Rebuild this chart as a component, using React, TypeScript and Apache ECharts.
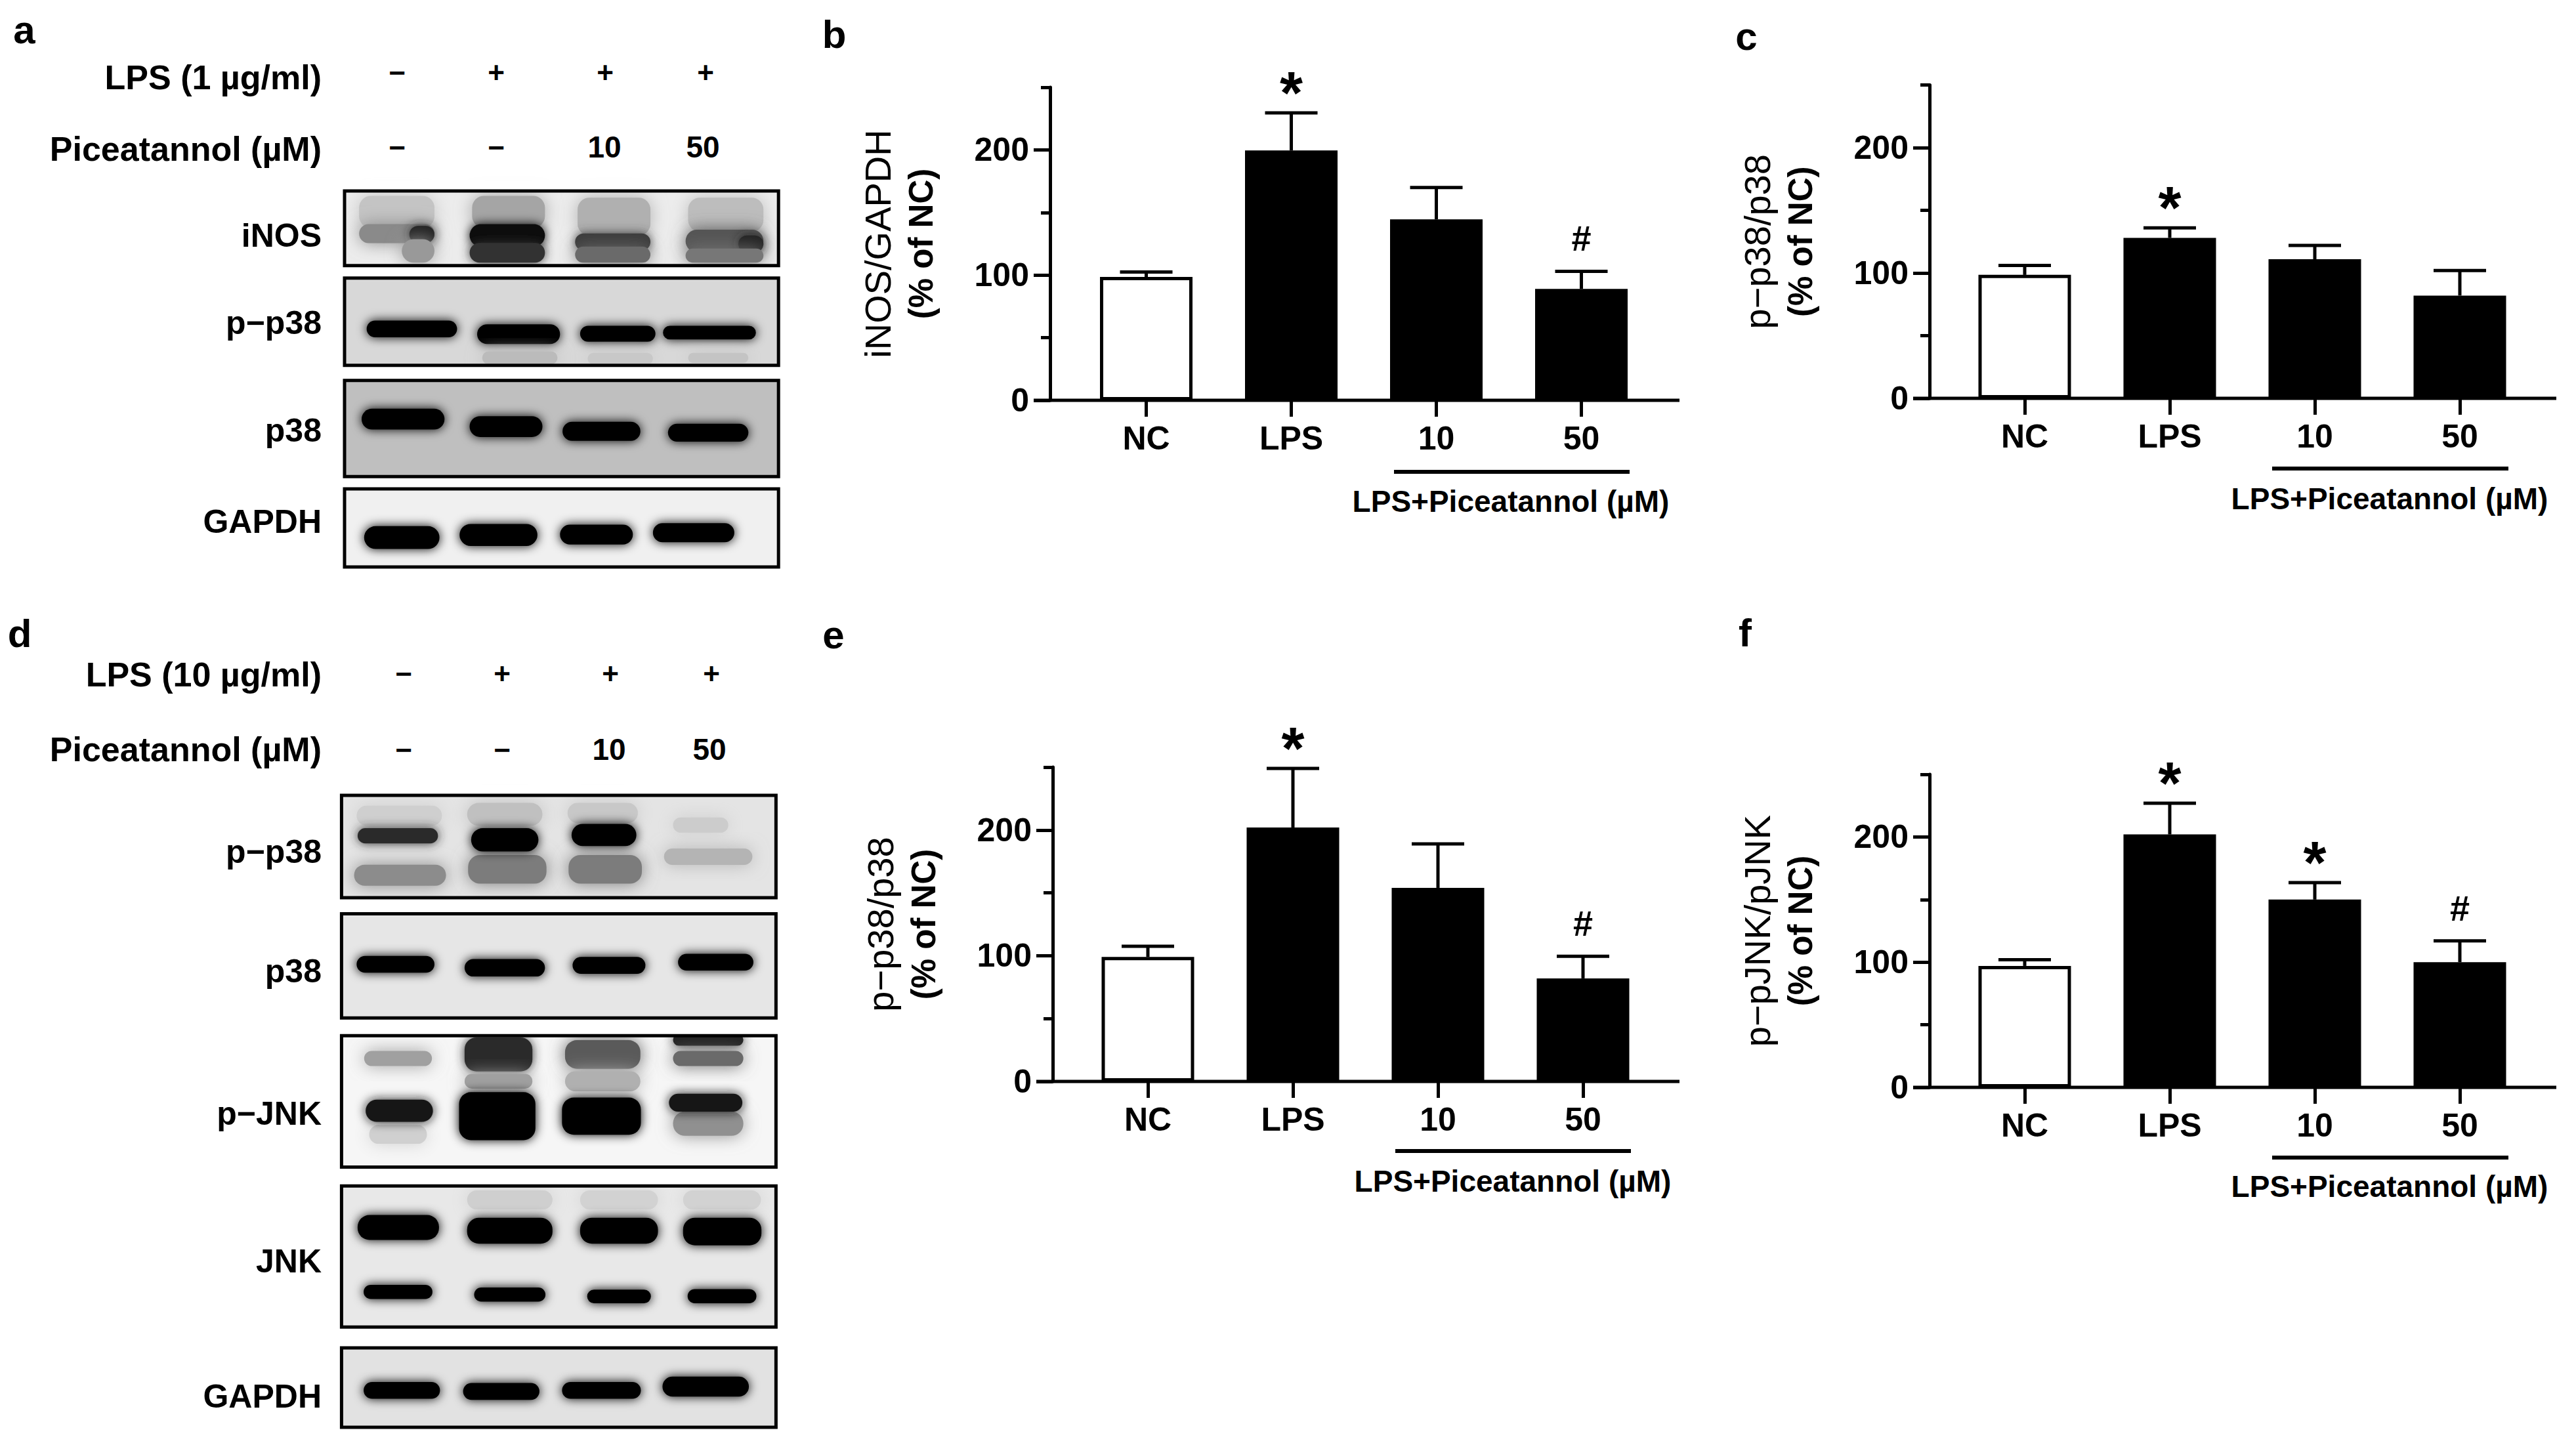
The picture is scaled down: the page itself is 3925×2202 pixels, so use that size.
import React, { useEffect, useRef } from "react";
import * as echarts from "echarts";

const FONT = "Liberation Sans";

// ---------- bar chart data ----------
const categories = ["NC", "LPS", "10", "50"];
const yTicks = [0, 100, 200];
const yMinorTicks = [50, 150, 250];
const caption = "LPS+Piceatannol (µM)";

const bMeans = [98.5, 199.5, 144.5, 89];
const bErrTops = [102.5, 229.5, 170, 103];
const bMarks = ["", "*", "", "#"];
const cMeans = [98.5, 128, 111, 82];
const cErrTops = [106, 136, 122, 102];
const cMarks = ["", "*", "", ""];
const eMeans = [99, 202, 154, 82];
const eErrTops = [107.5, 249, 189, 99.5];
const eMarks = ["", "*", "", "#"];
const fMeans = [97, 202, 150, 100];
const fErrTops = [102, 227, 163.5, 117];
const fMarks = ["", "*", "*", "#"];

// ---------- layout of the four bar panels ----------
const panels = [
  { title: "iNOS/GAPDH", sub: "(% of NC)", means: bMeans, errs: bErrTops, marks: bMarks, left: 1636, top: 133, h: 477, axisX: 1600, lineL: 1575, lineR: 2559, brL: 2124, brR: 2483, brY: 719, capX: 2302, capY: 764, gap: 164 },
  { title: "p−p38/p38", sub: "(% of NC)", means: cMeans, errs: cErrTops, marks: cMarks, left: 2974.5, top: 129.5, h: 477.5, axisX: 2940, lineL: 2915, lineR: 3895, brL: 3462, brR: 3822, brY: 714, capX: 3641, capY: 760, gap: 164 },
  { title: "p−p38/p38", sub: "(% of NC)", means: eMeans, errs: eErrTops, marks: eMarks, left: 1638.5, top: 1169, h: 479, axisX: 1604, lineL: 1579, lineR: 2559, brL: 2126, brR: 2485, brY: 1754, capX: 2305, capY: 1800, gap: 164 },
  { title: "p−pJNK/pJNK", sub: "(% of NC)", means: fMeans, errs: fErrTops, marks: fMarks, left: 2974.5, top: 1180, h: 477, axisX: 2940, lineL: 2915, lineR: 3895, brL: 3462, brR: 3822, brY: 1764, capX: 3641, capY: 1808, gap: 164 },
];
const BAND = 221;

// ---------- blot panels: coordinates in a per-figure drawing space ----------
type Box = { y0: number; y1: number; bg: string };
type B = [number, number, number, number, string?];

const aBoxes: Box[] = [
  { y0: 507, y1: 705, bg: "#ececec" },
  { y0: 738, y1: 970, bg: "#d8d8d8" },
  { y0: 1010, y1: 1265, bg: "#bfbfbf" },
  { y0: 1298, y1: 1505, bg: "#f0f0f0" },
];
const aBands: B[] = [
  [715, 865, 525, 600, "#c4c4c4"], [715, 865, 600, 640, "#8a8a8a"], [815, 865, 605, 640, "#222"], [800, 865, 640, 692, "#999"],
  [940, 1085, 525, 600, "#a5a5a5"], [935, 1085, 600, 650, "#111"], [935, 1085, 650, 692, "#333"],
  [1150, 1295, 530, 620, "#b0b0b0"], [1145, 1295, 625, 660, "#3a3a3a"], [1145, 1295, 660, 692, "#6a6a6a"],
  [1370, 1520, 530, 610, "#bdbdbd"], [1365, 1520, 615, 665, "#555"], [1470, 1520, 630, 665, "#222"], [1365, 1520, 665, 692, "#777"],
  [730, 910, 856, 890], [950, 1115, 866, 908], [1155, 1305, 870, 902], [1320, 1505, 870, 896],
  [960, 1110, 938, 962, "#bbb"], [1170, 1300, 942, 962, "#c8c8c8"], [1370, 1490, 942, 958, "#c4c4c4"],
  [720, 885, 1090, 1135], [935, 1080, 1110, 1155], [1120, 1275, 1125, 1165], [1330, 1490, 1130, 1167],
  [725, 875, 1402, 1452], [915, 1070, 1396, 1444], [1115, 1260, 1398, 1440], [1300, 1462, 1394, 1434],
];

const dBoxes: Box[] = [
  { y0: 357, y1: 548, bg: "#e4e4e4" },
  { y0: 578, y1: 772, bg: "#e6e6e6" },
  { y0: 805, y1: 1050, bg: "#f6f6f6" },
  { y0: 1085, y1: 1348, bg: "#e8e8e8" },
  { y0: 1387, y1: 1535, bg: "#e2e2e2" },
];
const dBands: B[] = [
  [710, 880, 380, 410, "#cfcfcf"], [930, 1080, 375, 410, "#c0c0c0"], [1130, 1270, 375, 405, "#c8c8c8"],
  [705, 888, 490, 522, "#8c8c8c"], [932, 1088, 472, 518, "#7c7c7c"], [1132, 1278, 472, 518, "#7c7c7c"],
  [712, 872, 422, 443, "#2a2a2a"], [938, 1072, 422, 458], [1138, 1267, 414, 448],
  [1340, 1450, 402, 423, "#ccc"], [1322, 1498, 460, 483, "#b4b4b4"],
  [710, 865, 660, 684], [925, 1085, 666, 691], [1140, 1285, 662, 686], [1350, 1500, 656, 680],
  [725, 860, 837, 858, "#a0a0a0"], [735, 850, 975, 1003, "#d0d0d0"], [728, 862, 928, 962, "#151515"],
  [925, 1060, 812, 868, "#2a2a2a"], [925, 1060, 880, 900, "#a0a0a0"], [914, 1066, 914, 996],
  [1125, 1275, 817, 863, "#5a5a5a"], [1125, 1275, 875, 905, "#b0b0b0"], [1119, 1276, 924, 986],
  [1340, 1480, 806, 820, "#222"], [1340, 1480, 837, 858, "#6a6a6a"], [1340, 1480, 950, 988, "#909090"], [1332, 1478, 917, 943, "#151515"],
  [930, 1100, 1097, 1125, "#cfcfcf"], [1155, 1310, 1097, 1125, "#d2d2d2"], [1360, 1515, 1097, 1125, "#d2d2d2"],
  [712, 874, 1143, 1182], [930, 1100, 1148, 1189], [1155, 1310, 1148, 1189], [1360, 1516, 1148, 1192],
  [724, 861, 1273, 1292], [944, 1086, 1278, 1297], [1169, 1296, 1282, 1300], [1369, 1506, 1281, 1300],
  [724, 876, 1454, 1478], [922, 1074, 1456, 1480], [1119, 1276, 1454, 1478], [1319, 1491, 1444, 1474],
];

const aLabels = [["iNOS", 359], ["p−p38", 492], ["p38", 656], ["GAPDH", 795]] as [string, number][];
const dLabels = [["p−p38", 1298], ["p38", 1480], ["p−JNK", 1697], ["JNK", 1922], ["GAPDH", 2128]] as [string, number][];
const aHeader = [["LPS (1 µg/ml)", 118], ["Piceatannol (µM)", 227]] as [string, number][];
const dHeader = [["LPS (10 µg/ml)", 1028], ["Piceatannol (µM)", 1142]] as [string, number][];
const rowLps = ["−", "+", "+", "+"];
const rowPic = ["−", "−", "10", "50"];
const aColsLps = [605, 756, 922, 1075];
const aColsPic = [605, 756, 921, 1071];
const dColsLps = [615, 765, 930, 1084];
const dColsPic = [615, 765, 928, 1081];
const letters = [["a", 37, 45], ["b", 1271, 52], ["c", 2661, 55], ["d", 30, 965], ["e", 1270, 967], ["f", 2659, 964]] as [string, number, number][];

const XS = 1 / 1.3067;
const AYS = 1 / 1.742;
const DYS = 1 / 1.223;

function text(t: string, x: number, y: number, size: number, align = "center", weight = "bold") {
  return {
    type: "text",
    z: 20,
    style: { text: t, x, y, fill: "#000", font: `${weight} ${size}px "${FONT}"`, align, verticalAlign: "middle" },
  };
}

function blot(boxes: Box[], bands: B[], x0: number, x1: number, ys: number, yo: number) {
  const out: any[] = [];
  const bx = x0 * XS, bw = (x1 - x0) * XS;
  for (const b of boxes) {
    out.push({
      type: "rect", z: 5,
      shape: { x: bx, y: b.y0 * ys + yo, width: bw, height: (b.y1 - b.y0) * ys },
      style: { fill: b.bg },
    });
  }
  for (const [l, r, t, bt, col] of bands) {
    const c = col || "#000";
    const pad = 3;
    const h = (bt - t) * ys + pad * 2;
    const grey = !!col && parseInt(col.slice(1, 2), 16) > 3;
    out.push({
      type: "rect", z: 6,
      shape: { x: l * XS, y: t * ys + yo - pad, width: (r - l) * XS, height: h, r: Math.min(h / 2, 18) },
      style: { fill: c, shadowBlur: grey ? 26 : 16, shadowColor: c },
    });
  }
  for (const b of boxes) {
    // white ring hides any blur that spills past the membrane edge
    out.push({
      type: "rect", z: 7,
      shape: { x: bx - 8, y: b.y0 * ys + yo - 8, width: bw + 16, height: (b.y1 - b.y0) * ys + 16 },
      style: { fill: "none", stroke: "#fff", lineWidth: 16 },
    });
    out.push({
      type: "rect", z: 8,
      shape: { x: bx, y: b.y0 * ys + yo, width: bw, height: (b.y1 - b.y0) * ys },
      style: { fill: "none", stroke: "#000", lineWidth: 5 },
    });
  }
  return out;
}

function buildOption() {
  const grid: any[] = [], xAxis: any[] = [], yAxis: any[] = [], series: any[] = [], graphic: any[] = [];
  panels.forEach((p, i) => {
    grid.push({ left: p.left, top: p.top, width: BAND * 4, height: p.h, containLabel: false });
    xAxis.push({
      gridIndex: i, type: "category", data: categories,
      axisLine: { show: false },
      axisTick: { show: true, length: 25, alignWithLabel: true, lineStyle: { color: "#000", width: 5 } },
      axisLabel: { margin: 33, color: "#000", fontFamily: FONT, fontWeight: "bold", fontSize: 50 },
      splitLine: { show: false },
    });
    const offset = p.left - p.axisX;
    yAxis.push({
      gridIndex: i, type: "value", min: 0, max: 250, interval: 50, offset,
      name: `{t|${p.title}}\n{s|${p.sub}}`, nameLocation: "middle", nameRotate: 90, nameGap: p.gap,
      nameTextStyle: {
        rich: {
          t: { fontFamily: FONT, fontSize: 56, lineHeight: 66, fontWeight: "normal", color: "#000" },
          s: { fontFamily: FONT, fontSize: 51, lineHeight: 66, fontWeight: "bold", color: "#000" },
        },
      },
      axisLine: { show: true, lineStyle: { color: "#000", width: 5 } },
      axisTick: { show: true, length: 25, customValues: yTicks, lineStyle: { color: "#000", width: 5 } },
      axisLabel: { margin: 32, customValues: yTicks, color: "#000", fontFamily: FONT, fontWeight: "bold", fontSize: 50 },
      splitLine: { show: false },
    });
    yAxis.push({
      gridIndex: i, type: "value", min: 0, max: 250, interval: 50, offset, position: "left",
      axisLine: { show: false },
      axisTick: { show: true, length: 14, customValues: yMinorTicks, lineStyle: { color: "#000", width: 5 } },
      axisLabel: { show: false },
      splitLine: { show: false },
    });
    series.push({
      type: "custom", xAxisIndex: i, yAxisIndex: i * 2, silent: true, z: 2,
      data: categories.map((_, k) => [k, p.means[k], p.errs[k]]),
      encode: { x: 0, y: [1, 2] },
      renderItem: (params: any, api: any) => {
        const k = api.value(0);
        const base = api.coord([k, api.value(1)]);
        const top = api.coord([k, api.value(2)]);
        const m = p.marks[params.dataIndex];
        const line = { stroke: "#000", lineWidth: 5 };
        const kids: any[] = [
          { type: "line", shape: { x1: base[0], y1: base[1], x2: top[0], y2: top[1] }, style: line },
          { type: "line", shape: { x1: top[0] - 40, y1: top[1], x2: top[0] + 40, y2: top[1] }, style: line },
        ];
        if (m) {
          const star = m === "*";
          kids.push({
            type: "text",
            style: {
              text: m, x: top[0], y: top[1] - (star ? 30 : 50), fill: "#000",
              font: `bold ${star ? 90 : 54}px "${FONT}"`, align: "center", verticalAlign: "middle",
            },
          });
        }
        return { type: "group", children: kids };
      },
    });
    series.push({
      type: "bar", xAxisIndex: i, yAxisIndex: i * 2, barWidth: 141, z: 3, silent: true,
      data: p.means.map((v, k) => ({
        value: v,
        itemStyle: { color: k === 0 ? "#fff" : "#000", borderColor: "#000", borderWidth: 5 },
      })),
    });
    graphic.push({ type: "line", z: 10, shape: { x1: p.lineL, y1: p.top + p.h, x2: p.lineR, y2: p.top + p.h }, style: { stroke: "#000", lineWidth: 5 } });
    graphic.push({ type: "line", z: 10, shape: { x1: p.brL, y1: p.brY, x2: p.brR, y2: p.brY }, style: { stroke: "#000", lineWidth: 6 } });
    graphic.push(text(caption, p.capX, p.capY, 46));
  });

  graphic.push(...blot(aBoxes, aBands, 686, 1550, AYS, 0));
  graphic.push(...blot(dBoxes, dBands, 680, 1545, DYS, 920));
  for (const [t, y] of [...aLabels, ...dLabels]) graphic.push(text(t, 490, y, 50, "right"));
  for (const [t, y] of [...aHeader, ...dHeader]) graphic.push(text(t, 490, y, 52, "right"));
  rowLps.forEach((t, i) => {
    graphic.push(text(t, aColsLps[i], 110, 44));
    graphic.push(text(t, dColsLps[i], 1026, 44));
  });
  rowPic.forEach((t, i) => {
    const s = i < 2 ? 44 : 46;
    graphic.push(text(t, aColsPic[i], 224, s));
    graphic.push(text(t, dColsPic[i], 1142, s));
  });
  for (const [t, x, y] of letters) graphic.push(text(t, x, y, 60));

  return { animation: false, backgroundColor: "#fff", grid, xAxis, yAxis, series, graphic };
}

export default function App() {
  const ref = useRef<HTMLDivElement>(null);
  useEffect(() => {
    document.body.style.margin = "0";
    const chart = echarts.init(ref.current!, undefined, { renderer: "svg", width: 3925, height: 2202 });
    chart.setOption(buildOption() as any);
    return () => chart.dispose();
  }, []);
  return <div ref={ref} style={{ position: "absolute", left: 0, top: 0, width: 3925, height: 2202 }} />;
}
